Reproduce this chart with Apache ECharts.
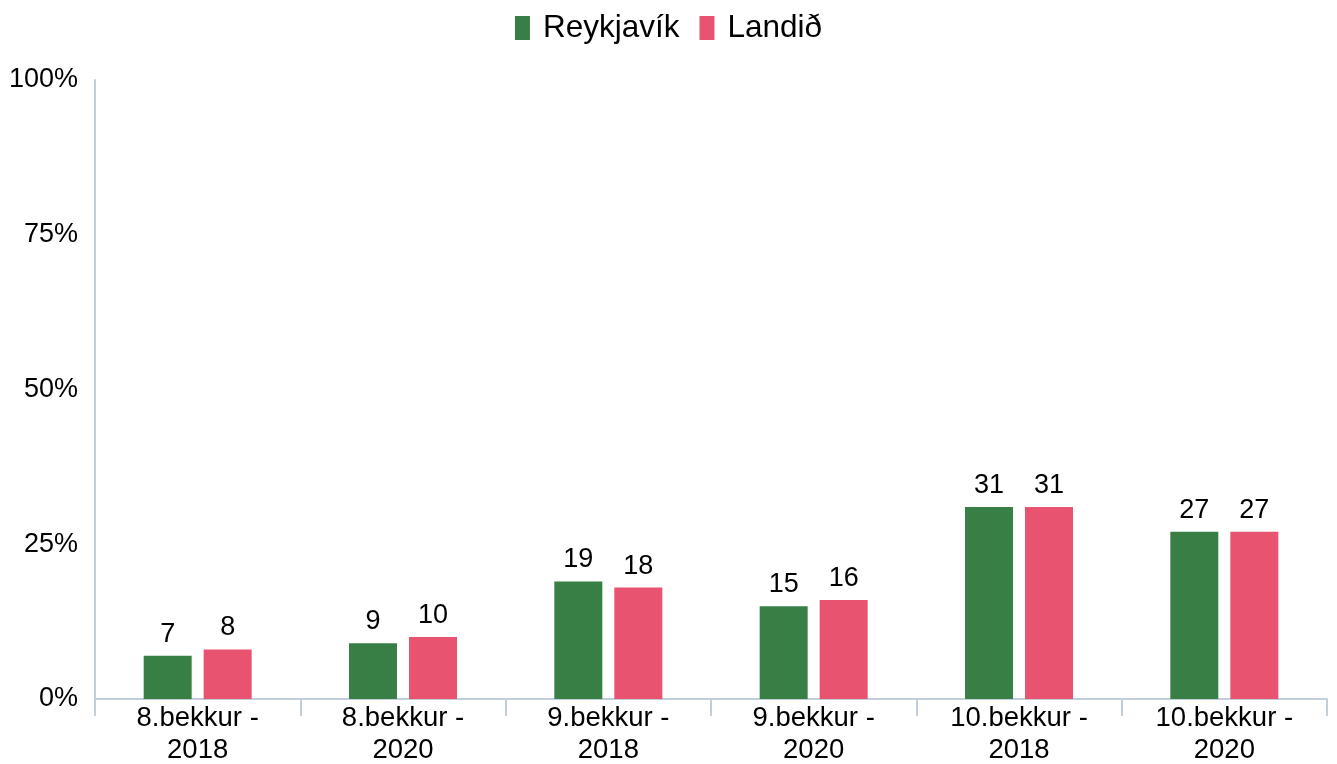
<!DOCTYPE html>
<html>
<head>
<meta charset="utf-8">
<script src="https://cdn.jsdelivr.net/npm/echarts@6/dist/echarts.min.js"></script>
<style>
  html, body { margin: 0; padding: 0; background: #fff; }
  #chart { width: 1337px; height: 764px; }
</style>
</head>
<body>
<div id="chart"></div>
<script>
const categories = ["8.bekkur -\n2018", "8.bekkur -\n2020", "9.bekkur -\n2018", "9.bekkur -\n2020", "10.bekkur -\n2018", "10.bekkur -\n2020"];
const reykjavik = [7, 9, 19, 15, 31, 27];
const landid = [8, 10, 18, 16, 31, 27];

const chart = echarts.init(document.getElementById("chart"));
const axisColor = "#C3CEDD";
const font = "Liberation Sans, Arial, sans-serif";

const labelStyle = {
  show: true,
  position: "top",
  distance: 8,
  color: "#000",
  fontSize: 27,
  fontFamily: font,
};

chart.setOption({
  animation: false,
  legend: {
    top: 7,
    left: "center",
    icon: "rect",
    itemWidth: 15,
    itemHeight: 24,
    itemGap: 20,
    textStyle: { fontSize: 31.5, color: "#000", fontFamily: font, padding: [0, 0, 0, 8] },
    data: ["Reykjavík", "Landið"],
  },
  grid: { left: 95, right: 10, top: 80, bottom: 65, outerBoundsMode: "none" },
  xAxis: {
    type: "category",
    data: categories,
    axisLine: { lineStyle: { color: axisColor, width: 2 } },
    axisTick: { show: true, length: 17, lineStyle: { color: axisColor, width: 2 } },
    axisLabel: { color: "#000", fontSize: 27.5, fontFamily: font, lineHeight: 32, margin: 3 },
  },
  yAxis: {
    type: "value",
    min: 0,
    max: 100,
    interval: 25,
    axisLine: { show: true, lineStyle: { color: axisColor, width: 2 } },
    axisTick: { show: false },
    splitLine: { show: false },
    axisLabel: { formatter: "{value}%", color: "#000", fontSize: 27, fontFamily: font, margin: 17 },
  },
  series: [
    {
      name: "Reykjavík",
      type: "bar",
      data: reykjavik,
      barWidth: 48,
      barGap: "25%",
      itemStyle: { color: "#387F45" },
      label: labelStyle,
    },
    {
      name: "Landið",
      type: "bar",
      data: landid,
      barWidth: 48,
      itemStyle: { color: "#E85370" },
      label: labelStyle,
    },
  ],
});
</script>
</body>
</html>
